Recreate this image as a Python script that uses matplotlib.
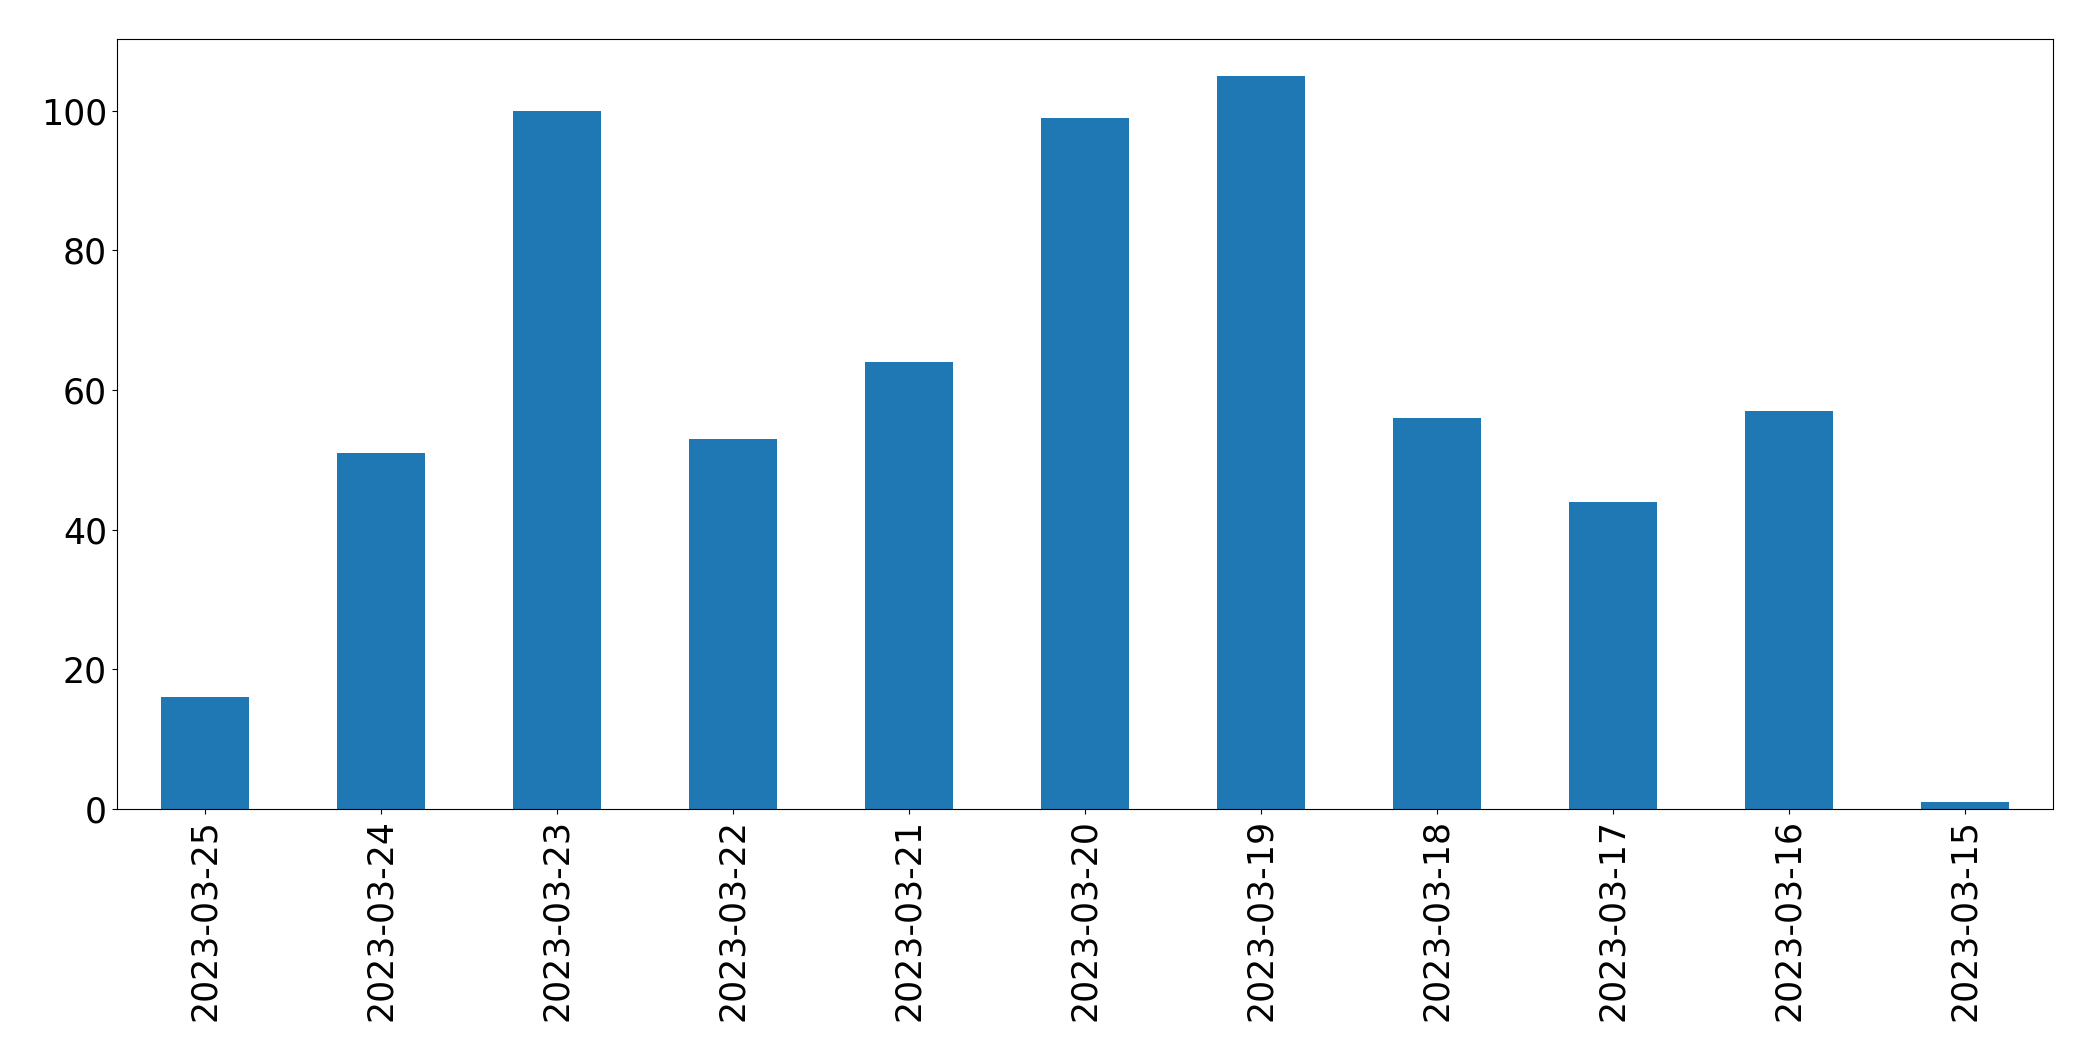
import matplotlib
matplotlib.use("Agg")
import matplotlib.pyplot as plt

dates = ["2023-03-25", "2023-03-24", "2023-03-23", "2023-03-22", "2023-03-21",
         "2023-03-20", "2023-03-19", "2023-03-18", "2023-03-17", "2023-03-16",
         "2023-03-15"]
counts = [16, 51, 100, 53, 64, 99, 105, 56, 44, 57, 1]

fig, ax = plt.subplots(figsize=(20.93, 10.61), dpi=100)
fig.subplots_adjust(left=0.0558, right=0.981, top=0.963, bottom=0.2375)

x = range(len(dates))
ax.bar(x, counts, width=0.5, color="#1f77b4")
ax.set_xticks(list(x))
ax.set_xticklabels(dates, rotation=90)
ax.set_xlim(-0.5, len(dates) - 0.5)
ax.set_ylim(0, 110.25)
ax.tick_params(axis="both", labelsize=25)

fig.savefig("out.png", dpi=100)
